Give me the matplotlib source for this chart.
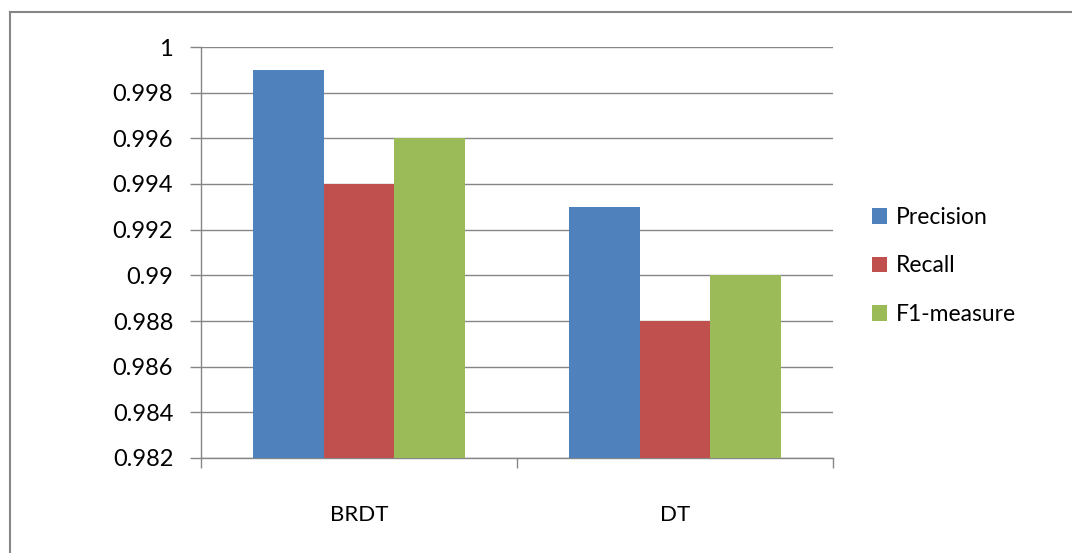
import numpy as np
import matplotlib.pyplot as plt
from matplotlib.lines import Line2D

categories = ["BRDT", "DT"]
series = ["Precision", "Recall", "F1-measure"]
precision = [0.999, 0.993]
recall = [0.994, 0.988]
f1 = [0.996, 0.990]
colors = ["#4F81BD", "#C0504D", "#9BBB59"]
yticks = [0.982, 0.984, 0.986, 0.988, 0.99, 0.992, 0.994, 0.996, 0.998, 1]
ylabels = ["0.982", "0.984", "0.986", "0.988", "0.99", "0.992", "0.994", "0.996", "0.998", "1"]

plt.rcParams["font.family"] = ["Lato", "DejaVu Sans"]

W, H = 1072, 553
fig = plt.figure(figsize=(W / 100, H / 100), dpi=100)
ax = fig.add_axes([201 / W, 1 - 458 / H, (833 - 201) / W, (458 - 47) / H])

x = np.arange(len(categories)) + 0.5
bw = 0.223
for i, (vals, name) in enumerate(zip([precision, recall, f1], series)):
    ax.bar(x + (i - 1) * bw, np.array(vals) - 0.982, bw, bottom=0.982,
           color=colors[i], label=name, zorder=3)

ax.set_xlim(0, 2)
ax.set_ylim(0.982, 1.0)
ax.set_yticks(yticks)
ax.set_yticklabels(ylabels)
ax.yaxis.grid(True, color="#868686", linewidth=1.0, zorder=0)
ax.set_xticks([0, 1, 2])
ax.set_xticklabels([])
ax.set_xticks(x, minor=True)
ax.set_xticklabels(categories, minor=True)
ax.tick_params(axis="x", which="major", length=7, color="#868686", width=1)
ax.tick_params(axis="x", which="minor", length=0, pad=34, labelsize=16)
ax.tick_params(axis="y", length=8, color="#868686", width=1, pad=12, labelsize=17)
for s in ["top", "right"]:
    ax.spines[s].set_visible(False)
for s in ["left", "bottom"]:
    ax.spines[s].set_color("#868686")
    ax.spines[s].set_linewidth(1)

ax.legend(loc="center left", bbox_to_anchor=(851 / W, 1 - 266 / H),
          bbox_transform=fig.transFigure, frameon=False, fontsize=16.5,
          handlelength=0.66, handleheight=0.66, handletextpad=0.4,
          labelspacing=1.2)

# outer frame (top and left edges)
fig.add_artist(Line2D([10 / W, 1], [1 - 12 / H] * 2, color="#868686", lw=1.5,
                      transform=fig.transFigure))
fig.add_artist(Line2D([10 / W] * 2, [0, 1 - 12 / H], color="#868686", lw=1.5,
                      transform=fig.transFigure))

fig.savefig("out.png", dpi=100)
